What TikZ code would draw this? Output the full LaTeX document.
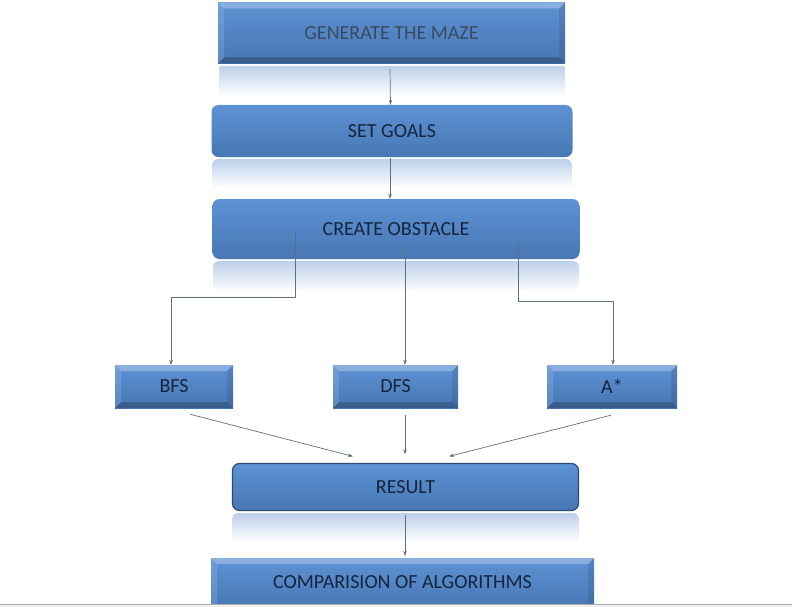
\documentclass[tikz,border=0pt]{standalone}
\usepackage{fontspec}
\setmainfont{Carlito}
\usetikzlibrary{arrows.meta}
\definecolor{boxtop}{HTML}{5E92D4}
\definecolor{boxbot}{HTML}{4777B4}
\definecolor{txt}{HTML}{16243C}
\definecolor{txtgray}{HTML}{3A4A5E}
\definecolor{refl}{HTML}{BDD0EA}
\definecolor{conn}{HTML}{5E6F82}
\definecolor{rborder}{HTML}{2C4C74}
\tikzset{
  lbl/.style={font=\fontsize{20}{24}\selectfont, text=txt},
  base/.style={rectangle, inner sep=0pt, top color=boxtop, bottom color=boxbot, lbl},
  bevelbox/.style={base,
    path picture={
      \fill[white,opacity=0.28] (path picture bounding box.north west) -- (path picture bounding box.north east)
        -- ([shift={(-6pt,-6pt)}]path picture bounding box.north east) -- ([shift={(6pt,-6pt)}]path picture bounding box.north west) -- cycle;
      \fill[black,opacity=0.22] (path picture bounding box.south west) -- (path picture bounding box.south east)
        -- ([shift={(-6pt,6pt)}]path picture bounding box.south east) -- ([shift={(6pt,6pt)}]path picture bounding box.south west) -- cycle;
      \fill[white,opacity=0.12] (path picture bounding box.north west) -- ([shift={(6pt,-6pt)}]path picture bounding box.north west)
        -- ([shift={(6pt,6pt)}]path picture bounding box.south west) -- (path picture bounding box.south west) -- cycle;
      \fill[black,opacity=0.1] (path picture bounding box.north east) -- ([shift={(-6pt,-6pt)}]path picture bounding box.north east)
        -- ([shift={(-6pt,6pt)}]path picture bounding box.south east) -- (path picture bounding box.south east) -- cycle;
    }},
  roundbox/.style={base, rounded corners=7pt},
  reflect/.style={top color=refl, bottom color=white},
  conn/.style={draw=conn, line width=0.7pt, -{Stealth[length=5pt,width=3.5pt]}},
}
\begin{document}
\begin{tikzpicture}[x=1pt,y=-1pt]
\clip (0,0) rectangle (792,607);
\fill[white] (0,0) rectangle (792,607);

% reflections
\shade[reflect, rounded corners=2pt] (219,66) rectangle (565,96);
\shade[reflect, rounded corners=6pt] (212,159) rectangle (572,188);
\shade[reflect, rounded corners=6pt] (213,261) rectangle (579,292);
\shade[reflect, rounded corners=6pt] (232,513) rectangle (579,542);

% boxes
\node[bevelbox, minimum width=347pt, minimum height=61pt, text=txtgray] (gen) at (391.5,33) {GENERATE THE MAZE};
\node[roundbox, minimum width=361pt, minimum height=52pt] (set) at (392,131) {SET GOALS};
\node[roundbox, minimum width=367pt, minimum height=60pt] (obs) at (396,229) {CREATE OBSTACLE};
\node[bevelbox, minimum width=118pt, minimum height=43pt] (bfs) at (174,386.5) {BFS};
\node[bevelbox, minimum width=125pt, minimum height=43pt] (dfs) at (395.5,386.5) {DFS};
\node[bevelbox, minimum width=130pt, minimum height=43pt] (ast) at (612,386.5) {A*};
\node[roundbox, draw=rborder, line width=1.2pt, minimum width=346pt, minimum height=47pt] (res) at (405.5,487) {RESULT};
\node[bevelbox, minimum width=383pt, minimum height=52pt, anchor=north] (cmp) at (402.5,558) {};
\node[lbl, inner sep=0pt] (cmpt) at (402.5,582) {COMPARISION OF ALGORITHMS};

% bottom frame line
\fill[gray!12] (0,604) rectangle (792,607);
\draw[gray!65, line width=1pt] (0,604) -- (792,604);

% connectors
\coordinate (c1) at (295,232);
\coordinate (c2) at (405,249);
\coordinate (c3) at (518,240);
\draw[conn] ([shift={(-1.5pt,-5pt)}]gen.south) -- ([shift={(-1.5pt,0pt)}]set.north);
\draw[conn] ([shift={(-2pt,-1pt)}]set.south) -- ([shift={(-6pt,0pt)}]obs.north);
\draw[conn] (c1) -- ++(0,65) -| ([xshift=-3pt]bfs.north);
\draw[conn] (c2) -- (c2 |- dfs.north);
\draw[conn] (c3) -- ++(0,61) -| ([xshift=1pt]ast.north);
\draw[conn] ([shift={(16pt,-6pt)}]bfs.south) -- ([shift={(-52.5pt,6.5pt)}]res.north);
\draw[conn] ([shift={(9.5pt,-7pt)}]dfs.south) -- ([shift={(-0.5pt,8.5pt)}]res.north);
\draw[conn] ([shift={(-1pt,-7pt)}]ast.south) -- ([shift={(43.5pt,6.5pt)}]res.north);
\draw[conn] ([shift={(-0.5pt,-4pt)}]res.south) -- ([shift={(2.5pt,2pt)}]cmp.north);
\end{tikzpicture}
\end{document}
